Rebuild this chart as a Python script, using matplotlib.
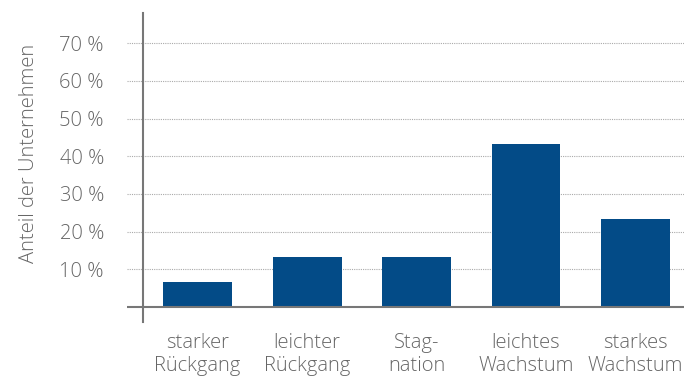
import matplotlib.pyplot as plt

categories = ["starker\nRückgang", "leichter\nRückgang", "Stag-\nnation", "leichtes\nWachstum", "starkes\nWachstum"]
shares = [6.6, 13.3, 13.3, 43.2, 23.3]
y_ticks = [10, 20, 30, 40, 50, 60, 70]
y_ticklabels = ["%d %%" % t for t in y_ticks]

plt.rcParams['font.family'] = ['Open Sans', 'DejaVu Sans']
text_gray = '#666666'

fig = plt.figure(figsize=(6.84, 3.81), dpi=100)
ax = fig.add_axes([127/684, 59/381, 557/684, 309/381])

x = list(range(len(categories)))
ax.bar(x, shares, width=0.63, color='#034b87', zorder=3)

ax.set_xlim(-0.644, 4.443)
ax.set_ylim(-4, 78)

# dotted grid lines plus solid base line
for t in y_ticks:
    ax.axhline(t, color='#aaaaaa', lw=0.8, ls=(0, (1, 1)), zorder=1)
ax.axhline(0, color='#777777', lw=1.5, zorder=4)

for s in ['top', 'right', 'bottom']:
    ax.spines[s].set_visible(False)
ax.spines['left'].set_position(('data', -0.5))
ax.spines['left'].set_color('#777777')
ax.spines['left'].set_linewidth(1.5)

ax.set_yticks(y_ticks)
ax.set_yticklabels(y_ticklabels, fontsize=14.5, color=text_gray, fontweight='light')
ax.tick_params(axis='y', length=0, pad=28)

ax.set_xticks(x)
ax.set_xticklabels(categories, fontsize=14.5, color=text_gray, fontweight='light', linespacing=1.2)
ax.tick_params(axis='x', length=0, pad=8)

ax.set_ylabel("Anteil der Unternehmen", fontsize=14.5, color=text_gray, fontweight='light')
ax.yaxis.set_label_coords(-0.158, 0.547)

fig.savefig('out.png', dpi=100)
